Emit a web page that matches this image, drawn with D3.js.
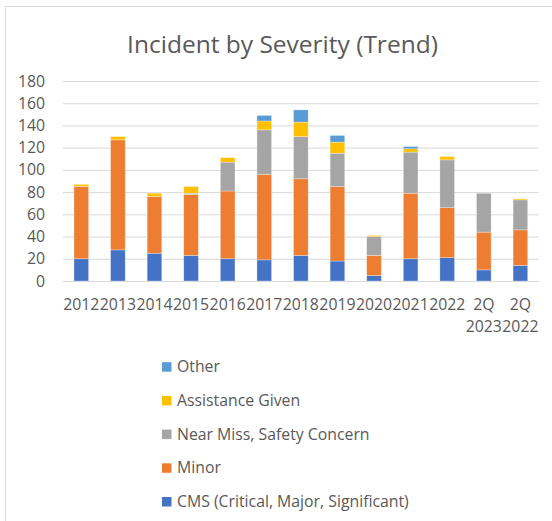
<!DOCTYPE html>
<html>
<head>
<meta charset="utf-8">
<script src="https://cdn.jsdelivr.net/npm/d3@7"></script>
<style>
  body { margin: 0; background: #fff; }
  svg { font-family: "Open Sans", sans-serif; }
</style>
</head>
<body>
<div id="chart"></div>
<script>
// chart values
const CATEGORIES = ["2012", "2013", "2014", "2015", "2016", "2017", "2018",
                    "2019", "2020", "2021", "2022", "2Q 2023", "2Q 2022"];
const SERIES = ["CMS (Critical, Major, Significant)", "Minor",
                "Near Miss, Safety Concern", "Assistance Given", "Other"];
const CMS      = [20, 28, 25, 23, 20, 19, 23, 18,  5, 20, 21, 10, 14];
const MINOR    = [65, 99, 51, 55, 61, 77, 69, 67, 18, 59, 45, 34, 32];
const NEAR     = [ 0,  0,  0,  1, 26, 40, 38, 30, 17, 37, 43, 35, 27];
const ASSIST   = [ 2,  3,  3,  6,  4,  8, 13, 10,  1,  3,  3,  0,  1];
const OTHER    = [ 0,  0,  0,  0,  0,  5, 11,  6,  0,  2,  0,  0,  0];
const Y_TICKS  = [0, 20, 40, 60, 80, 100, 120, 140, 160, 180];
const COLORS   = ["#4472C4", "#ED7D31", "#A5A5A5", "#FFC000", "#5B9BD5"];

const WIDTH = 552, HEIGHT = 521;
const PLOT = {left: 63, right: 538.7, top: 81, bottom: 281};
const FONT = 15.8;

const table = CATEGORIES.map((c, i) => ({
  cat: c,
  [SERIES[0]]: CMS[i], [SERIES[1]]: MINOR[i], [SERIES[2]]: NEAR[i],
  [SERIES[3]]: ASSIST[i], [SERIES[4]]: OTHER[i]
}));

const svg = d3.select("#chart").append("svg")
  .attr("width", WIDTH).attr("height", HEIGHT);

// chart area border (runs off the right and bottom edges)
svg.append("rect")
  .attr("x", 5.5).attr("y", 6.5)
  .attr("width", 600).attr("height", 600)
  .attr("fill", "#fff").attr("stroke", "#d9d9d9");

svg.append("text")
  .attr("x", 282.5).attr("y", 53)
  .attr("text-anchor", "middle")
  .attr("font-size", 24.5).attr("fill", "#595959")
  .text("Incident by Severity (Trend)");

const x = d3.scaleBand()
  .domain(CATEGORIES)
  .range([PLOT.left, PLOT.right])
  .paddingInner(0.6).paddingOuter(0.3);

const y = d3.scaleLinear().domain([0, 180]).range([PLOT.bottom, PLOT.top]);

// gridlines + y labels
const yAxis = svg.append("g")
  .attr("transform", "translate(" + PLOT.left + ",0)")
  .call(d3.axisLeft(y).tickValues(Y_TICKS)
          .tickSize(-(PLOT.right - PLOT.left)).tickPadding(18));
yAxis.select(".domain").remove();
yAxis.selectAll("line").attr("stroke", "#d9d9d9");
yAxis.selectAll("text").attr("font-size", FONT).attr("fill", "#595959")
  .attr("font-family", "Open Sans");

// stacked bars
const stack = d3.stack().keys(SERIES)(table);
svg.selectAll(".layer")
  .data(stack)
  .enter()
  .append("g")
    .attr("fill", (d, i) => COLORS[i])
  .selectAll("rect")
  .data(d => d)
  .enter()
  .append("rect")
    .attr("x", d => x(d.data.cat))
    .attr("y", d => y(d[1]))
    .attr("width", x.bandwidth())
    .attr("height", d => y(d[0]) - y(d[1]))
    .attr("stroke", "#fff").attr("stroke-opacity", 0.5).attr("stroke-width", 0.6);

// x labels (the "2Q" ones wrap onto two lines)
const xAxis = svg.append("g")
  .attr("transform", "translate(0," + PLOT.bottom + ")")
  .call(d3.axisBottom(x).tickSize(0).tickPadding(0).tickFormat(""));
xAxis.select(".domain").attr("stroke", "#d9d9d9");
const xLab = svg.append("g").selectAll("text")
  .data(CATEGORIES)
  .enter()
  .append("text")
    .attr("text-anchor", "middle")
    .attr("font-size", FONT).attr("fill", "#595959")
    .attr("y", 309.5);
xLab.each(function(d) {
  const parts = d.split(" ");
  const t = d3.select(this);
  parts.forEach((p, j) => {
    t.append("tspan")
      .attr("x", x(d) + x.bandwidth() / 2)
      .attr("dy", j === 0 ? 0 : 22)
      .text(p);
  });
});

// legend, reversed order
const legend = svg.append("g").selectAll("g")
  .data(SERIES.slice().reverse())
  .enter()
  .append("g")
    .attr("transform", (d, i) => "translate(162," + (366.7 + i * 33.7) + ")");
legend.append("rect")
  .attr("x", 0).attr("y", -4.5).attr("width", 9.5).attr("height", 9.5)
  .attr("fill", (d, i) => COLORS[SERIES.length - 1 - i]);
legend.append("text")
  .attr("x", 15).attr("y", 5.5)
  .attr("font-size", FONT).attr("fill", "#595959")
  .text(d => d);
</script>
</body>
</html>
